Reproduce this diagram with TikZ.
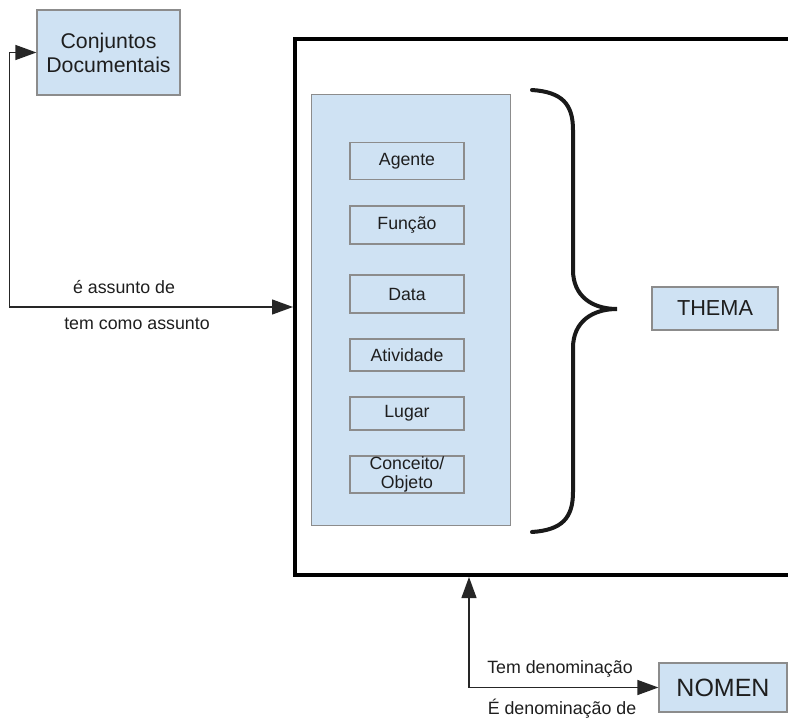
\documentclass[tikz,border=0pt]{standalone}
\usepackage{fontspec}
\setmainfont{Liberation Sans}
\usetikzlibrary{arrows.meta,positioning}
\definecolor{boxblue}{RGB}{207,226,243}
\definecolor{boxline}{RGB}{140,140,140}
\definecolor{inktext}{RGB}{30,30,30}

\begin{document}
\begin{tikzpicture}[
    x=1pt,y=-1pt,
    every node/.style={text=inktext},
    concept/.style={rectangle,draw=boxline,fill=boxblue,line width=1.2pt,inner sep=0pt,align=center},
    facet/.style={concept,minimum width=114pt,font=\fontsize{17.7}{19}\selectfont},
    rel/.style={font=\fontsize{17.8}{20}\selectfont},
    link/.style={line width=1.3pt,draw=black!85,{Triangle[length=21pt,width=15pt]}-{Triangle[length=21pt,width=15pt]}},
    brace/.style={line width=4pt,draw=black!90,line cap=round}
]
    \useasboundingbox (0,0) rectangle (788,720);

    % Outer frame and facet panel
    \node[draw,line width=4pt,minimum width=496pt,minimum height=536pt,inner sep=0pt,anchor=north west] (frame) at (293,37) {};
    \node[concept,minimum width=199pt,minimum height=431pt,anchor=north west] (panel) at (311,94) {};

    % Facets
    \node[facet,minimum height=37pt] (agente) at (407,161) {Agente};
    \node[facet,minimum height=38pt] (funcao) at (407,225) {Função};
    \node[facet,minimum height=38pt] (data) at (407,294) {Data};
    \node[facet,minimum height=32pt] (atividade) at (407,355) {Atividade};
    \node[facet,minimum height=33pt] (lugar) at (407,413.5) {Lugar};
    \node[facet,minimum height=37pt] (conceito) at (407,474.5) {Conceito/\\Objeto};

    % Brace grouping the facets
    \draw[brace] (532,90) .. controls (562,92) and (573,104) .. (573,130)
        -- (573,270) .. controls (573,296) and (592,309) .. (617,309)
        .. controls (592,309) and (573,322) .. (573,348)
        -- (573,492) .. controls (573,518) and (562,530) .. (532,532);

    % Classes
    \node[concept,minimum width=126pt,minimum height=43pt,font=\fontsize{21.7}{24}\selectfont] (thema) at (715,308.5) {THEMA};
    \node[concept,minimum width=143pt,minimum height=85pt,font=\fontsize{21.3}{24}\selectfont] (conj) at (108.5,52.5) {Conjuntos\\Documentais};
    \node[concept,minimum width=128pt,minimum height=49pt,font=\fontsize{25}{28}\selectfont] (nomen) at (723,687.5) {NOMEN};

    % Relations
    \draw[link] (conj.west) -- ++(-27,0) |- (frame.west);
    \draw[link] (nomen.west) -| ([xshift=176pt]frame.south west);

    \node[rel] (isof) at (124,287) {é assunto de};
    \node[rel] (hasof) at (137,324) {tem como assunto};
    \node[rel] (hasname) at (560,669) {Tem denominação};
    \node[rel] (isname) at (562,709) {É denominação de};
\end{tikzpicture}
\end{document}
